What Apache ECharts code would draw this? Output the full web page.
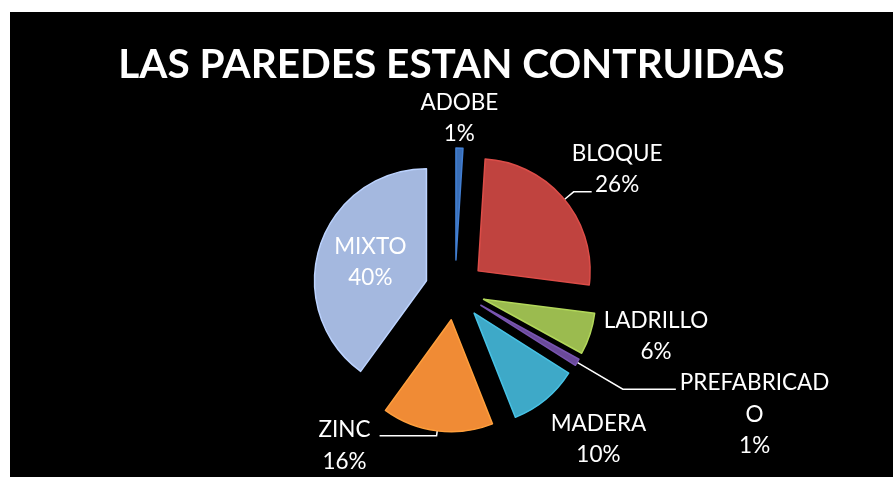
<!DOCTYPE html>
<html lang="es">
<head>
    <meta charset="UTF-8">
    <title>Las paredes estan contruidas</title>
    <script src="https://cdn.jsdelivr.net/npm/echarts@6.0.0/dist/echarts.min.js"></script>
    <style>
        html, body { margin: 0; padding: 0; background: #fff; }
        #chart {
            position: absolute;
            left: 10px;
            top: 12px;
            width: 883px;
            height: 465px;
            background: #000;
        }
    </style>
</head>
<body>
    <div id="chart"></div>

    <script>
        // datos (porcentajes)
        const categories = ['ADOBE', 'BLOQUE', 'LADRILLO', 'PREFABRICADO', 'MADERA', 'ZINC', 'MIXTO'];
        const values = [1, 26, 6, 1, 10, 16, 40];
        const colors = ['#3a6fb8', '#c0433f', '#9bbb4f', '#6a4a9a', '#3ea9c8', '#f08b35', '#a4b8df'];

        // ajustes de etiqueta por porcion (estilo, no datos)
        const labelTweaks = [
            { line: false, length: 30, length2: 0, dist: -40 },
            { line: true, length: 12, length2: 18, dist: -20, padding: [0, 0, 45, 0] },
            { line: false, length: 8, length2: 0, dist: 6 },
            { line: true, length: 53, length2: 53, dist: 4, padding: [50, 0, 0, 0] },
            { line: false, length: 52, length2: 0, dist: -28 },
            { line: true, length: 5, length2: 57, dist: 9, padding: [20, 0, 0, 0] },
            { inside: true, offset: [8, 0] }
        ];

        // el texto de la etiqueta se corta como en el original (ancho de caja)
        const MAX_CHARS = 11;
        const wrapName = name => {
            const parts = [];
            for (let i = 0; i < name.length; i += MAX_CHARS) parts.push(name.slice(i, i + MAX_CHARS));
            return parts.map(p => '{n|' + p + '}').join('\n');
        };

        const chart = echarts.init(document.getElementById('chart'));

        const pieData = categories.map((name, i) => {
            const t = labelTweaks[i];
            const label = t.inside
                ? { position: 'inside', offset: t.offset }
                : { distanceToLabelLine: t.dist, padding: t.padding || 0 };
            return {
                name: name,
                value: values[i],
                selected: true,
                itemStyle: {
                    color: colors[i],
                    borderColor: echarts.color.lift(colors[i], -0.15),
                    borderWidth: 1.5
                },
                label: label,
                labelLine: t.inside ? { show: false } : { show: t.line, length: t.length, length2: t.length2 }
            };
        });

        const option = {
            backgroundColor: '#000',
            animation: false,
            title: {
                text: 'LAS PAREDES ESTAN CONTRUIDAS',
                left: 'center',
                top: 27,
                textStyle: {
                    color: '#fff',
                    fontFamily: 'Lato',
                    fontWeight: 'bold',
                    fontSize: 40.5
                }
            },
            series: [{
                type: 'pie',
                center: [445, 278],
                radius: 112,
                startAngle: 90,
                clockwise: true,
                selectedMode: 'multiple',
                selectedOffset: 30,
                avoidLabelOverlap: false,
                labelLayout: { hideOverlap: false },
                emphasis: { disabled: true },
                label: {
                    show: true,
                    position: 'outside',
                    color: '#fff',
                    fontFamily: 'Lato',
                    fontSize: 22.5,
                    lineHeight: 31.5,
                    textBorderWidth: 0,
                    formatter: p => wrapName(p.name) + '\n{n|' + p.value + '%}',
                    rich: {
                        n: {
                            align: 'center',
                            color: '#fff',
                            fontFamily: 'Lato',
                            fontSize: 22.5,
                            lineHeight: 31.5
                        }
                    }
                },
                labelLine: {
                    lineStyle: { color: '#fff', width: 1.5 },
                    smooth: false
                },
                data: pieData
            }]
        };

        chart.setOption(option);
        window.addEventListener('resize', () => chart.resize());
    </script>
</body>
</html>
